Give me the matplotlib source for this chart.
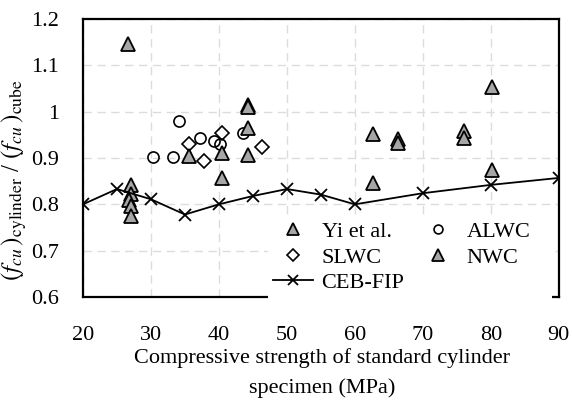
import numpy as np
import matplotlib
matplotlib.use("Agg")
import matplotlib.pyplot as plt
from matplotlib.patches import Rectangle

plt.rcParams['font.family'] = ['Liberation Serif', 'DejaVu Serif']
plt.rcParams['mathtext.fontset'] = 'stix'

# Yi et al. data (triangles)
yi_x = [26.6, 27.0, 27.0, 26.8, 27.0, 27.0, 62.7, 62.7, 66.4, 66.4, 76.1, 76.1, 80.2, 80.2]
yi_y = [1.147, 0.841, 0.823, 0.809, 0.797, 0.774, 0.951, 0.846, 0.942, 0.932, 0.958, 0.944, 1.054, 0.874]

# ALWC (open circles)
alwc_x = [30.3, 33.2, 34.1, 37.2, 39.3, 40.1, 43.6]
alwc_y = [0.903, 0.903, 0.980, 0.944, 0.937, 0.930, 0.953]

# SLWC (open diamonds)
slwc_x = [35.6, 37.8, 40.5, 46.3]
slwc_y = [0.931, 0.893, 0.955, 0.924]

# NWC (triangles)
nwc_x = [35.6, 40.4, 40.4, 44.3, 44.3, 44.3, 44.3]
nwc_y = [0.905, 0.910, 0.856, 1.015, 1.009, 0.964, 0.906]

# CEB-FIP
ceb_x = [20, 25, 30, 35, 40, 45, 50, 55, 60, 70, 80, 90]
ceb_y = [0.800, 0.833, 0.811, 0.778, 0.800, 0.818, 0.833, 0.821, 0.800, 0.824, 0.842, 0.857]

fig = plt.figure(figsize=(5.72, 4.0), dpi=100)
ax = fig.add_axes([0.145, 0.2575, 0.832, 0.695])

tri = dict(marker='^', linestyle='none', markersize=10, markerfacecolor='#a6a6a6',
           markeredgecolor='black', markeredgewidth=1.3)
h_yi, = ax.plot(yi_x, yi_y, label='Yi et al.', **tri)
h_al, = ax.plot(alwc_x, alwc_y, marker='o', linestyle='none', markersize=8,
                markerfacecolor='none', markeredgecolor='black', markeredgewidth=1.2, label='ALWC')
h_sl, = ax.plot(slwc_x, slwc_y, marker='D', linestyle='none', markersize=7.5,
                markerfacecolor='none', markeredgecolor='black', markeredgewidth=1.2, label='SLWC')
h_nw, = ax.plot(nwc_x, nwc_y, label='NWC', **tri)
h_ceb, = ax.plot(ceb_x, ceb_y, color='black', linewidth=1.3, marker='x', markersize=9,
                 markeredgewidth=1.3, label='CEB-FIP')

ax.set_xlim(20, 90)
ax.set_ylim(0.6, 1.2)
ax.set_xticks(np.arange(20, 91, 10))
ax.set_yticks([0.6, 0.7, 0.8, 0.9, 1.0, 1.1, 1.2])
ax.set_yticklabels(['0.6', '0.7', '0.8', '0.9', '1', '1.1', '1.2'])
ax.tick_params(length=0, labelsize=16)
ax.tick_params(axis='x', pad=21)
ax.tick_params(axis='y', pad=17)
ax.grid(True, color='#dcdcdc', linestyle=(0, (6, 4)), linewidth=1)
ax.set_axisbelow(True)
for s in ax.spines.values():
    s.set_linewidth(1.6)

fig.text(0.026, 0.55, r'$(f_{cu}\,)_{\mathrm{cylinder}}$ / $(f_{cu}\,)_{\mathrm{cube}}$',
         fontsize=18, rotation=90, ha='center', va='center')
fig.text(0.563, 1 - 363 / 400, 'Compressive strength of standard cylinder', fontsize=16,
         ha='center', va='baseline')
fig.text(0.563, 1 - 393 / 400, 'specimen (MPa)', fontsize=16, ha='center', va='baseline')

# white box behind the legend (hides grid and part of the bottom spine)
ax.add_patch(Rectangle((0.389, -0.01), 0.596, 0.305, transform=ax.transAxes,
                       facecolor='white', edgecolor='none', zorder=3, clip_on=False))

leg = ax.legend([h_yi, h_sl, h_ceb, h_al, h_nw], ['Yi et al.', 'SLWC', 'CEB-FIP', 'ALWC', 'NWC'],
                ncol=2, loc='lower right', bbox_to_anchor=(0.978, -0.05), fontsize=16,
                frameon=False, markerscale=0.8, handlelength=1.8, handletextpad=0.4,
                columnspacing=0.6, labelspacing=0.22, borderpad=0.3)
leg.set_zorder(5)

fig.savefig('out.png', dpi=100)
